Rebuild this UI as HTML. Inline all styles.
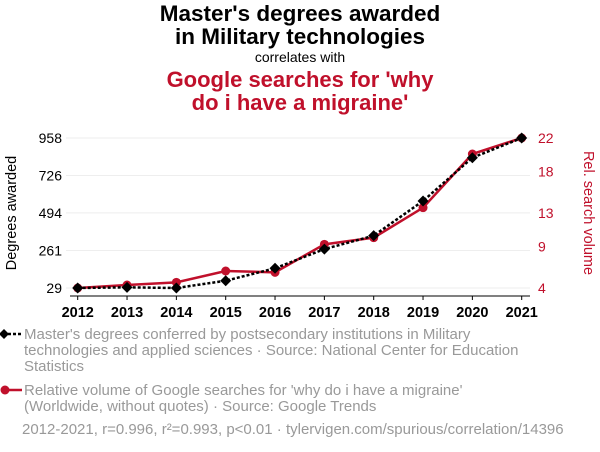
<!DOCTYPE html>
<html><head><meta charset="utf-8"><style>
body{margin:0;background:#fff;font-family:"Liberation Sans",sans-serif;}
#wrap{position:relative;width:600px;height:452px;overflow:hidden;}
.t{position:absolute;left:0;width:600px;text-align:center;}
.leg{position:absolute;left:24px;font-size:15px;color:#999;line-height:16px;white-space:nowrap;}
</style></head><body>
<div id="wrap">
<div class="t" style="top:2px;font-size:22.5px;font-weight:bold;line-height:23px;color:#000">Master's degrees awarded<br>in Military technologies</div>
<div class="t" style="top:49px;font-size:14px;color:#000">correlates with</div>
<div class="t" style="top:68px;font-size:22px;font-weight:bold;line-height:23px;color:#c0102b">Google searches for 'why<br>do i have a migraine'</div>
<svg id="c" width="600" height="320" style="position:absolute;left:0;top:0"></svg>
<div class="leg" style="top:327px">Master's degrees conferred by postsecondary institutions in Military<br>technologies and applied sciences · Source: National Center for Education<br>Statistics</div>
<div class="leg" style="top:383px">Relative volume of Google searches for 'why do i have a migraine'<br>(Worldwide, without quotes) · Source: Google Trends</div>
<div class="leg" style="top:422px;left:22px">2012-2021, r=0.996, r²=0.993, p&lt;0.01 · tylervigen.com/spurious/correlation/14396</div>
<svg width="24" height="100" style="position:absolute;left:0;top:325px">
<line x1="3" y1="9" x2="22" y2="9" stroke="#000" stroke-width="2.5" stroke-dasharray="3,2"/><path d="M4 4L9 9L4 14L-1 9Z" fill="#000"/>
<line x1="3" y1="65" x2="22" y2="65" stroke="#c0102b" stroke-width="2.5"/><circle cx="5" cy="65" r="4.5" fill="#c0102b"/>
</svg>
</div>
<script>
const years=[2012,2013,2014,2015,2016,2017,2018,2019,2020,2021];
const degrees=[29,33,29,74,151,270,353,568,836,958];
const searches=[4,4.36,4.68,6.04,5.88,9.24,10.04,13.64,20.08,22];
const leftTicks=[29,261,494,726,958];
const rightTicks=[4,9,13,18,22];
const NS="http://www.w3.org/2000/svg";
const svg=document.getElementById('c');
const X0=77.7,X1=521.7,YT=138,YB=288;
const x=i=>X0+(X1-X0)*i/(years.length-1);
const yL=v=>YB-(v-29)/(958-29)*(YB-YT);
const yR=v=>YB-(v-4)/(22-4)*(YB-YT);
function mk(t,a){const e=document.createElementNS(NS,t);for(const k in a)e.setAttribute(k,a[k]);svg.appendChild(e);return e;}
leftTicks.forEach((v,i)=>{
 const g=mk('line',{x1:66,x2:530,y1:yL(v),y2:yL(v),stroke:'#eee','stroke-width':1});
 
 
 const t=mk('text',{x:62,y:yL(v)+5,'text-anchor':'end','font-size':14,fill:'#000'});t.textContent=v;
 
 
});
rightTicks.forEach((v,i)=>{
 const t=mk('text',{x:538,y:yR(v)+5,'font-size':14,fill:'#c0102b'});t.textContent=v;
 
 
});
const ax=mk('line',{x1:70,x2:530,y1:296,y2:296,stroke:'#000','stroke-width':1});


years.forEach((yr,i)=>{
 mk('line',{x1:x(i),x2:x(i),y1:296,y2:300,stroke:'#000'});
 const t=mk('text',{x:x(i),y:317,'text-anchor':'middle','font-size':14.5,'font-weight':'bold',fill:'#000'});t.textContent=yr;
 
 
});
const lt=mk('text',{x:0,y:0,transform:'translate(16,213) rotate(-90)','text-anchor':'middle','font-size':14.5,fill:'#000'});lt.textContent='Degrees awarded';


const rt=mk('text',{x:0,y:0,transform:'translate(584,213) rotate(90)','text-anchor':'middle','font-size':14.5,fill:'#c0102b'});rt.textContent='Rel. search volume';


const rl=mk('polyline',{points:searches.map((v,i)=>x(i)+','+yR(v)).join(' '),fill:'none',stroke:'#c0102b','stroke-width':2.5});


searches.forEach((v,i)=>{const c=mk('circle',{cx:x(i),cy:yR(v),r:4.5,fill:'#c0102b'});
 
 });
const bl=mk('polyline',{points:degrees.map((v,i)=>x(i)+','+yL(v)).join(' '),fill:'none',stroke:'#000','stroke-width':2.5,'stroke-dasharray':'3,2'});


degrees.forEach((v,i)=>{const cx=x(i),cy=yL(v);const p=mk('path',{d:`M${cx} ${cy-5.5}L${cx+5.5} ${cy}L${cx} ${cy+5.5}L${cx-5.5} ${cy}Z`,fill:'#000'});
 
 });
</script>
</body></html>
